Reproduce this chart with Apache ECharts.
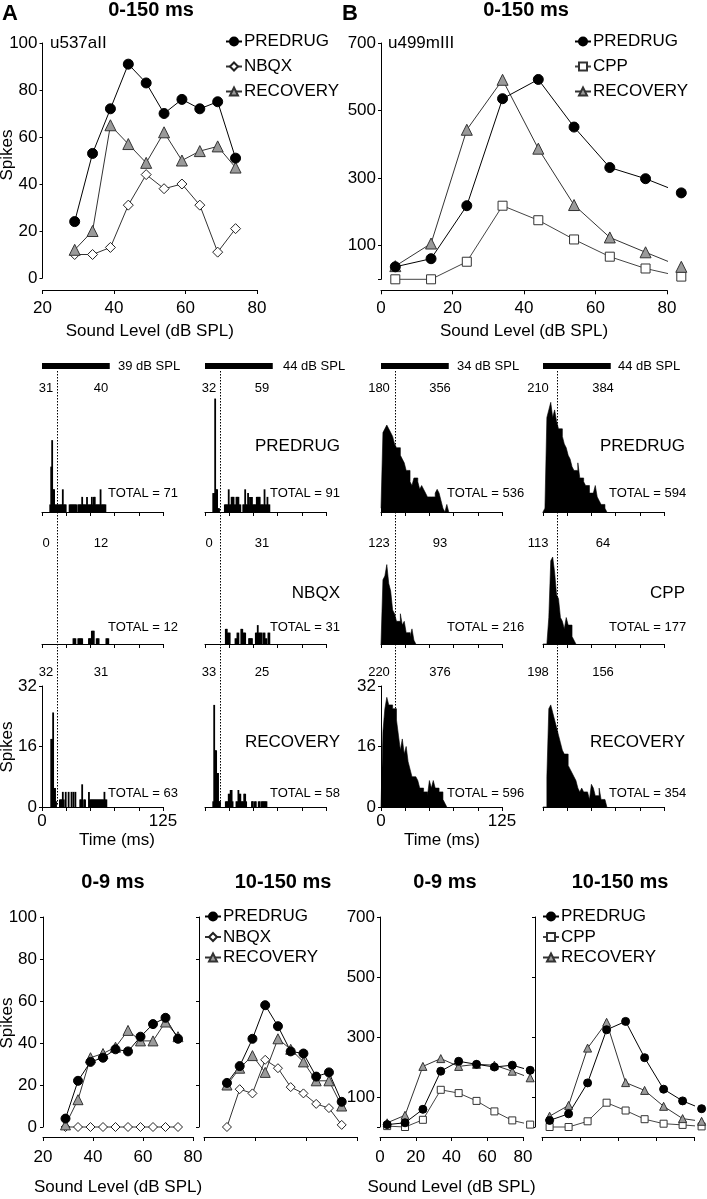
<!DOCTYPE html>
<html>
<head>
<meta charset="utf-8">
<script src="https://cdn.jsdelivr.net/npm/echarts@6/dist/echarts.min.js"></script>
<style>
  html, body { margin: 0; padding: 0; background: #fff; }
  #fig { width: 707px; height: 1199px; }
</style>
</head>
<body>
<div id="fig"></div>
<script>
// sound levels (dB SPL)
var levelsA = [29, 34, 39, 44, 49, 54, 59, 64, 69, 74];
var levelsB = [4, 14, 24, 34, 44, 54, 64, 74, 84];

// 0-150 ms rate-level functions
var predrugA = [24, 53, 72, 91, 83, 70, 76, 72, 75, 51];
var nbqxA = [10, 10, 13, 31, 44, 38, 40, 31, 11, 21];
var recoveryA = [12, 20, 65, 57, 49, 62, 50, 54, 56, 47];
var predrugB = [37, 61, 218, 535, 592, 451, 331, 298, 256];
var cppB = [0, 0, 52, 218, 175, 118, 67, 32, 8];
var recoveryB = [39, 106, 443, 591, 387, 220, 124, 80, 37];

// 0-9 ms
var predrugAEarly = [4, 22, 31, 33, 37, 36, 43, 49, 52, 42];
var nbqxAEarly = [0, 0, 0, 0, 0, 0, 0, 0, 0, 0];
var recoveryAEarly = [1, 13, 33, 35, 38, 46, 41, 41, 50, 43];
var predrugBEarly = [8, 14, 59, 186, 219, 209, 200, 206, 189];
var cppBEarly = [3, 0, 24, 124, 113, 87, 52, 22, 8];
var recoveryBEarly = [14, 39, 202, 228, 202, 209, 206, 186, 164];

// 10-150 ms
var predrugALate = [21, 29, 42, 58, 48, 36, 35, 24, 26, 12];
var nbqxALate = [0, 18, 16, 32, 28, 19, 16, 11, 9, 1];
var recoveryALate = [20, 28, 34, 26, 42, 37, 31, 22, 22, 10];
var predrugBLate = [22, 44, 147, 324, 352, 231, 126, 87, 61];
var cppBLate = [0, 0, 19, 81, 55, 26, 11, 7, 2];
var recoveryBLate = [36, 72, 263, 349, 148, 122, 69, 28, 19];

// PSTHs, unit A: 1 ms bins starting at 0 ms
var psthA39Pre = [0,0,0,0,0,0,0,0, 2,12,19,6,6,2,2,2, 2,2,2,2,2,6,2,2, 2,0,0,0,2,2,2,2,
  2,2,2,2,0,2,2,2, 2,4,2,2,2,2,4,2, 2,2,2,4,2,4,4,2, 2,2,2,2,6,2,2,2, 2,2,0];
var psthA44Pre = [0,0,0,0,0,0,0,0, 5,5,30,6,6,1,1,0, 0,0,0,0,2,2,2,2, 6,2,2,4,4,4,2,2,
  4,4,4,2,2,0,0,2, 2,6,2,2,5,2,4,4, 4,2,2,2,2,4,4,4, 4,2,2,2,2,6,2,2, 4,2,2,0];
var psthA39Drug = [0,0,0,0,0,0,0,0, 0,0,0,0,0,0,0,0, 0,0,0,0,0,0,0,0, 0,0,0,0,0,0,0,0,
  1.5,1.5,1.5,0,0,1.5,1.5,1.5, 1.5,1.5,0,0,0,0,0,0, 1.5,1.5,1.5,3.5,3.5,3.5,0,0,
  1.5,1.5,1.5,0,0,0,0,0, 0,0,1.5,1.5,1.5];
var psthA44Drug = [0,0,0,0,0,0,0,0, 0,0,0,0,0,0,0,0, 0,0,0,0,0,4,4,3, 3,3,0,0,0,0,0,1.5,
  1.5,3,3,0,0,4,4,3, 3,3,0,0,0,1.5,1.5,1.5, 1.5,0,0,0,3,3,5,3, 3,3,3,0,3,3,1.5,1.5, 0,3,3];
var psthA39Rec = [0,0,0,0,0,0,0,0, 0,18,18,25,5,5,1.5,0, 0,0,2,2,2,4,2,0, 4,0,0,4,0,0,4,0,
  4,0,4,0,0,0,0,2, 2,6,0,2,2,0,0,0, 4,2,2,2,2,2,2,2, 2,2,2,2,2,2,2,2, 4,2,2];
var psthA44Rec = [0,0,0,0,0,0,0,0, 1.5,27,15,15,9,9,1.5,1.5, 0,0,0,0,0,1.5,1.5,1.5,
  3.5,3.5,4.5,4.5,1.5,0,0,0, 1.5,1.5,4.5,3.5,3.5,1.5,1.5,1.5, 3.5,3.5,1.5,0,0,0,0,0,
  1.5,1.5,0,1.5,1.5,0,0,1.5, 1.5,0,1.5,1.5,1.5,1.5,1.5,1.5];

// PSTHs, unit B: 2 ms bins starting at 0 ms
var psthB34Pre = [1,21,22,23,22,21,20,18,17,17,15,14,13,11,11,8,7,9,9,8,6,7,6,5,4,4,4,4,5,6,5,3,1,0,2];
var psthB44Pre = [0,1,25,27,29,25,27,24,22,22,20,18,17,15,14,12,11,11,13,9,9,8,7,7,5,5,5,7,4,3,2,2,1];
var psthB34Drug = [0,17,18,21,16,14,9,8,6,6,8,5,6,3,3,2,4,1];
var psthB44Drug = [0,0,0,7,22,23,19,13,12,7,6,4,7,5,5,2,1];
var psthB34Rec = [0,20,26,29,27,27,26,26,23,19,15,18,14,16,12,10,8,8,8,7,5,5,4,4,3,7,5,7,5,5,4,4,2,1];
var psthB44Rec = [0,0,8,26,27,25,23,21,19,17,15,14,14,11,10,9,8,7,5,4,5,4,4,4,2,6,5,3,3,5,2,2,2];

var stimLevels = [39, 44, 34, 44];
var earlyCounts = [[31, 32, 180, 210], [0, 0, 123, 113], [32, 33, 220, 198]];
var lateCounts = [[40, 59, 356, 384], [12, 31, 93, 64], [31, 25, 376, 156]];
var totals = [[71, 91, 536, 594], [12, 31, 216, 177], [63, 58, 596, 354]];
var condLabels = [['PREDRUG', 'PREDRUG'], ['NBQX', 'CPP'], ['RECOVERY', 'RECOVERY']];
var stimDur = 70;               // ms
var windowEdge = [16, 15.5, 14.5, 14];  // dotted line, ms

var FONT = '"Liberation Sans", Arial, Helvetica, sans-serif';

var chart = echarts.init(document.getElementById('fig'));

var grids = [], xAxes = [], yAxes = [], series = [];

function addGrid(l, t, w, h) {
  grids.push({ left: l, top: t, width: w, height: h, containLabel: false, outerBoundsMode: 'none' });
  return grids.length - 1;
}

function axis(gi, min, max, interval, o) {
  o = o || {};
  var tick = { show: true, inside: false, length: o.tickLen || 4, lineStyle: { color: '#000', width: 1 } };
  if (o.tickValues) tick.customValues = o.tickValues;
  var label = { show: o.labels !== false, color: '#000', fontSize: 17, fontFamily: FONT, margin: o.margin || 6 };
  if (o.labelValues) label.customValues = o.labelValues;
  if (o.fmt) label.formatter = o.fmt;
  return {
    type: 'value', gridIndex: gi, min: min, max: max, interval: interval,
    show: o.show !== false, offset: o.offset || 0,
    axisLine: { show: true, onZero: false, lineStyle: { color: '#000', width: 1 } },
    axisTick: tick, axisLabel: label, splitLine: { show: false },
    name: o.name || '', nameLocation: 'middle', nameGap: o.nameGap || 30,
    nameTextStyle: { color: '#000', fontSize: 17, fontFamily: FONT }
  };
}

var STY = {
  PREDRUG: { symbol: 'circle', item: { color: '#000', borderColor: '#000', borderWidth: 1 }, line: '#000' },
  NBQX: { symbol: 'diamond', item: { color: '#fff', borderColor: '#222', borderWidth: 1 }, line: '#333' },
  CPP: { symbol: 'rect', item: { color: '#fff', borderColor: '#333', borderWidth: 1 }, line: '#444' },
  RECOVERY: { symbol: 'triangle', item: { color: '#9a9a9a', borderColor: '#333', borderWidth: 1 }, line: '#333' }
};

function lineSeries(name, gi, xs, ys, size) {
  var s = STY[name];
  series.push({
    type: 'line', name: name, xAxisIndex: gi, yAxisIndex: gi,
    data: xs.map(function (x, i) { return [x, ys[i]]; }),
    symbol: s.symbol, symbolSize: size, clip: false, silent: true,
    itemStyle: s.item, lineStyle: { color: s.line, width: 1 }
  });
}

// sparse PSTH: thin bars; dense PSTH: filled step outline so bins join up
function histSeries(gi, counts, bin) {
  if (bin === 1) {
    series.push({
      type: 'bar', xAxisIndex: gi, yAxisIndex: gi, silent: true,
      data: counts.map(function (c, i) { return [i * bin + bin / 2, c]; }),
      barWidth: 1.8, itemStyle: { color: '#000' }
    });
  } else {
    var pts = counts.map(function (c, i) { return [i * bin, c]; });
    pts.push([counts.length * bin, 0]);
    series.push({
      type: 'line', step: 'end', xAxisIndex: gi, yAxisIndex: gi, silent: true,
      data: pts, symbol: 'none',
      lineStyle: { color: '#000', width: 0.6 },
      areaStyle: { color: '#000', opacity: 1 }
    });
  }
}

var evenHidden = function (v) { return (v / 100) % 2 === 1 ? String(v) : ''; };

// ---- top rate-level plots
var g = addGrid(42.5, 43, 214.5, 235);
xAxes.push(axis(g, 20, 80, 20, { offset: 12, margin: 10, name: 'Sound Level (dB SPL)', nameGap: 33 }));
yAxes.push(axis(g, 0, 100, 20, { tickLen: 3, margin: 5 }));
lineSeries('NBQX', g, levelsA, nbqxA, 10);
lineSeries('RECOVERY', g, levelsA, recoveryA, 11);
lineSeries('PREDRUG', g, levelsA, predrugA, 10);

g = addGrid(381, 43, 286, 236.3);
xAxes.push(axis(g, 0, 80, 20, { offset: 11, margin: 10, name: 'Sound Level (dB SPL)', nameGap: 33 }));
yAxes.push(axis(g, 0, 700, 100, { tickLen: 3, margin: 5, tickValues: [0, 100, 300, 500, 700], labelValues: [100, 300, 500, 700], fmt: evenHidden }));
lineSeries('CPP', g, levelsB, cppB, 9);
lineSeries('RECOVERY', g, levelsB, recoveryB, 11);
lineSeries('PREDRUG', g, levelsB, predrugB, 10);

// ---- PSTHs
var colLeft = [42, 205, 381, 543];
var rowTop = [391, 523, 686];
var psths = [
  [psthA39Pre, psthA44Pre, psthB34Pre, psthB44Pre],
  [psthA39Drug, psthA44Drug, psthB34Drug, psthB44Drug],
  [psthA39Rec, psthA44Rec, psthB34Rec, psthB44Rec]
];
var histGrid = [];
for (var r = 0; r < 3; r++) {
  histGrid.push([]);
  for (var c = 0; c < 4; c++) {
    g = addGrid(colLeft[c], rowTop[r], 121, 121);
    histGrid[r].push(g);
    var labelled = (r === 2 && (c === 0 || c === 2));
    xAxes.push(axis(g, 0, 125, 25, {
      labels: labelled, margin: 6,
      fmt: function (v) { return (v === 0 || v === 125) ? String(v) : ''; }
    }));
    yAxes.push(axis(g, 0, 32, 16, { show: labelled, tickLen: 3, margin: 5 }));
    histSeries(g, psths[r][c], c < 2 ? 1 : 2);
  }
}

// ---- bottom: 0-9 ms and 10-150 ms
g = addGrid(43, 917, 150, 210);
xAxes.push(axis(g, 20, 80, 20, { offset: 10, margin: 12, name: 'Sound Level (dB SPL)', nameGap: 42 }));
yAxes.push(axis(g, 0, 100, 20, { tickLen: 3, margin: 6 }));
lineSeries('NBQX', g, levelsA, nbqxAEarly, 9);
lineSeries('RECOVERY', g, levelsA, recoveryAEarly, 10);
lineSeries('PREDRUG', g, levelsA, predrugAEarly, 9);

g = addGrid(204, 917, 153, 210);
xAxes.push(axis(g, 20, 80, 20, { offset: 10, labels: false }));
yAxes.push(axis(g, 0, 100, 20, { tickLen: 3, labels: false, offset: 5 }));
lineSeries('NBQX', g, levelsA, nbqxALate, 9);
lineSeries('RECOVERY', g, levelsA, recoveryALate, 10);
lineSeries('PREDRUG', g, levelsA, predrugALate, 9);

g = addGrid(380, 917, 143, 210);
xAxes.push(axis(g, 0, 80, 20, { offset: 10, margin: 12, name: 'Sound Level (dB SPL)', nameGap: 42 }));
yAxes.push(axis(g, 0, 700, 100, { tickLen: 3, margin: 5, tickValues: [0, 100, 300, 500, 700], labelValues: [100, 300, 500, 700], fmt: evenHidden }));
lineSeries('CPP', g, levelsB, cppBEarly, 7);
lineSeries('RECOVERY', g, levelsB, recoveryBEarly, 8);
lineSeries('PREDRUG', g, levelsB, predrugBEarly, 8);

g = addGrid(542, 917, 152, 210);
xAxes.push(axis(g, 0, 80, 20, { offset: 10, labels: false }));
yAxes.push(axis(g, 0, 700, 100, { tickLen: 3, labels: false, offset: 7, tickValues: [0, 100, 300, 500, 700] }));
lineSeries('CPP', g, levelsB, cppBLate, 7);
lineSeries('RECOVERY', g, levelsB, recoveryBLate, 8);
lineSeries('PREDRUG', g, levelsB, predrugBLate, 8);

function legendAt(names, left, top, gap) {
  return {
    data: names, orient: 'vertical', left: left, top: top, padding: 0,
    itemWidth: 16, itemHeight: 10, itemGap: gap, selectedMode: false,
    textStyle: { fontSize: 17, color: '#000', fontFamily: FONT, padding: [0, 0, 0, -3] }
  };
}

chart.setOption({
  animation: false,
  backgroundColor: '#fff',
  textStyle: { fontFamily: FONT },
  grid: grids, xAxis: xAxes, yAxis: yAxes, series: series,
  legend: [
    legendAt(['PREDRUG', 'NBQX', 'RECOVERY'], 225, 33, 8),
    legendAt(['PREDRUG', 'CPP', 'RECOVERY'], 574, 33, 8),
    legendAt(['PREDRUG', 'NBQX', 'RECOVERY'], 204, 908, 3.5),
    legendAt(['PREDRUG', 'CPP', 'RECOVERY'], 542, 908, 3.5)
  ]
});

// ---- texts and markers placed after layout
function txt(x, y, s, size, align, bold, rot) {
  return {
    type: 'text', x: x, y: y, rotation: rot || 0, silent: true,
    style: { text: String(s), fill: '#000', fontSize: size, fontFamily: FONT,
      fontWeight: bold ? 'bold' : 'normal', align: align || 'center', verticalAlign: 'middle' }
  };
}

var gfx = [
  txt(2, 14, 'A', 22, 'left', true), txt(342, 14, 'B', 22, 'left', true),
  txt(151, 10, '0-150 ms', 20, 'center', true), txt(526, 10, '0-150 ms', 20, 'center', true),
  txt(50, 43, 'u537aII', 17, 'left'), txt(388, 43, 'u499mIII', 17, 'left'),
  txt(7, 155, 'Spikes', 17, 'center', false, Math.PI / 2),
  txt(7, 747, 'Spikes', 17, 'center', false, Math.PI / 2),
  txt(7, 1023, 'Spikes', 17, 'center', false, Math.PI / 2),
  txt(117, 840, 'Time (ms)', 17), txt(442, 840, 'Time (ms)', 17),
  txt(113, 882, '0-9 ms', 20, 'center', true), txt(283, 882, '10-150 ms', 20, 'center', true),
  txt(445, 882, '0-9 ms', 20, 'center', true), txt(620, 882, '10-150 ms', 20, 'center', true)
];

var earlyX = [46, 209, 379, 538], lateX = [101, 262, 440, 603], labelY = [388, 543, 672];
var totalX = [108, 270, 447, 609], totalY = [493, 627, 793];
var condX = [340, 685], condY = [446, 593, 742];
var stimLabelX = [118, 283, 457, 618];

for (var c2 = 0; c2 < 4; c2++) {
  var xi = histGrid[0][c2];
  var p0 = chart.convertToPixel({ xAxisIndex: xi }, 0);
  var p1 = chart.convertToPixel({ xAxisIndex: xi }, stimDur);
  var pd = Math.round(chart.convertToPixel({ xAxisIndex: xi }, windowEdge[c2])) + 0.5;
  gfx.push({ type: 'rect', silent: true, shape: { x: p0, y: 363, width: p1 - p0, height: 6 }, style: { fill: '#000' } });
  gfx.push({ type: 'line', silent: true, shape: { x1: pd, y1: 371, x2: pd, y2: 806 },
    style: { stroke: '#000', lineWidth: 1, lineDash: [1.5, 1.5] } });
  gfx.push(txt(stimLabelX[c2], 366, stimLevels[c2] + ' dB SPL', 13, 'left'));
  for (var r2 = 0; r2 < 3; r2++) {
    gfx.push(txt(earlyX[c2], labelY[r2], earlyCounts[r2][c2], 13));
    gfx.push(txt(lateX[c2], labelY[r2], lateCounts[r2][c2], 13));
    gfx.push(txt(totalX[c2], totalY[r2], 'TOTAL = ' + totals[r2][c2], 13, 'left'));
  }
}
for (var r3 = 0; r3 < 3; r3++) {
  gfx.push(txt(condX[0], condY[r3], condLabels[r3][0], 17, 'right'));
  gfx.push(txt(condX[1], condY[r3], condLabels[r3][1], 17, 'right'));
}

chart.setOption({ graphic: gfx });
</script>
</body>
</html>
